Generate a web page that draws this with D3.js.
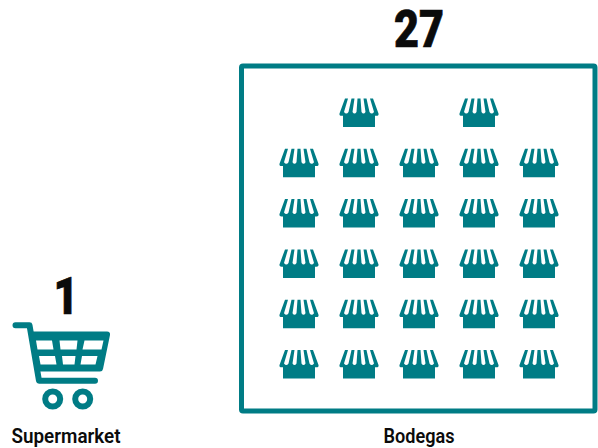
<!DOCTYPE html>
<html lang="en">
    <head>
        <meta charset="UTF-8" />
        <title>Supermarket vs Bodegas</title>
        <style>
            body {
                margin: 0;
                background: #fff;
            }
            text {
                font-family: Roboto, sans-serif;
                text-anchor: middle;
                fill: #0b0b0b;
            }
            .count {
                font-size: 51px;
                font-weight: 900;
                stroke: #0b0b0b;
                stroke-width: 0.7px;
            }
            .label {
                font-size: 20px;
                font-weight: 600;
            }
        </style>
    </head>
    <body>
        <svg id="chart" width="598" height="448"></svg>
        <script src="https://d3js.org/d3.v7.min.js"></script>
        <script>
            const categories = ['Supermarket', 'Bodegas'];
            const counts = [1, 27];

            // how the 27 shops sit in the box, top row first
            const rows = [0, 1, 2, 3, 4, 5];
            const columns = [0, 1, 2, 3, 4];
            const columnsInRow = [[1, 3], columns, columns, columns, columns, columns];

            const teal = '#007c85';
            const svg = d3.select('#chart');

            const x = d3.scaleOrdinal().domain(categories).range([66, 419]);
            const countY = d3.scaleOrdinal().domain(categories).range([313.5, 46.5]);
            const countWidth = d3.scaleOrdinal().domain(categories).range([25, 50]);
            const labelWidth = d3.scaleOrdinal().domain(categories).range([109, 71]);
            const col = d3.scalePoint().domain(columns).range([299, 539]);
            const row = d3.scalePoint().domain(rows).range([113, 364.5]);

            svg.append('rect').attr('x', 241.5).attr('y', 66).attr('width', 353.5).attr('height', 345).attr('rx', 1.5).attr('fill', 'none').attr('stroke', teal).attr('stroke-width', 5);

            // shop icon drawn around its own centre, the awning gaps are notches in the outline
            const shopOutline = [
                'M-14,-14.5 H-11 L-15,-1 Q-12.7,2 -10.5,-1 L-7.5,-14.5 H-4.5',
                'L-6.5,-1 Q-4.5,2 -2.5,-1 L-1.5,-14.5 H1.5',
                'L2.5,-1 Q4.5,2 6.5,-1 L4.5,-14.5 H7.5',
                'L10.5,-1 Q12.7,2 15,-1 L11,-14.5 H14',
                'L19.5,0.5 Q20,2.8 17.5,2.8 H16 V14 H-16 V2.8 H-17.5 Q-20,2.8 -19.5,0.5 Z',
            ].join(' ');

            const cells = rows.flatMap((r) => columnsInRow[r].map((c) => ({ r, c })));
            svg.selectAll('path.shop')
                .data(cells)
                .join('path')
                .attr('class', 'shop')
                .attr('transform', (d) => `translate(${col(d.c)},${row(d.r)})`)
                .attr('fill', teal)
                .attr('d', shopOutline);

            // shopping cart
            svg.append('path')
                .attr('d', 'M15.5,325.3 H29.5 L39,380.7 H95')
                .attr('fill', 'none')
                .attr('stroke', teal)
                .attr('stroke-width', 6)
                .attr('stroke-linecap', 'round')
                .attr('stroke-linejoin', 'round');
            const basket = 'M31,331.5 H107 Q110.5,331.5 110,335 L103,369 Q102.5,371.5 100,371.5 H38 L33,340 Z';
            const basketHoles = [
                'M36,340.5 H52 L53.5,349.5 H37.5 Z',
                'M59.5,340.5 H77.5 L76.5,349.5 H60.5 Z',
                'M84.5,340.5 H103.5 L101.5,349.5 H82.5 Z',
                'M39,356 H55 L56.5,364.5 H40.5 Z',
                'M62,356 H75.5 L74.5,364.5 H63 Z',
                'M82,356 H97.5 L95.5,364.5 H80.5 Z',
            ].join(' ');
            svg.append('path').attr('fill', teal).attr('fill-rule', 'evenodd').attr('d', `${basket} ${basketHoles}`);
            const wheels = [52.7, 82.7];
            svg.selectAll('circle.wheel').data(wheels).join('circle').attr('class', 'wheel').attr('cx', (d) => d).attr('cy', 399).attr('r', 7.5).attr('fill', '#fff').attr('stroke', teal).attr('stroke-width', 6);

            svg.selectAll('text.count')
                .data(categories)
                .join('text')
                .attr('class', 'count')
                .attr('x', (d) => x(d))
                .attr('y', (d) => countY(d))
                .attr('textLength', (d) => countWidth(d))
                .attr('lengthAdjust', 'spacingAndGlyphs')
                .text((d, i) => counts[i]);

            svg.selectAll('text.label')
                .data(categories)
                .join('text')
                .attr('class', 'label')
                .attr('x', (d) => x(d))
                .attr('y', 443)
                .attr('textLength', (d) => labelWidth(d))
                .attr('lengthAdjust', 'spacingAndGlyphs')
                .text((d) => d);
        </script>
    </body>
</html>
